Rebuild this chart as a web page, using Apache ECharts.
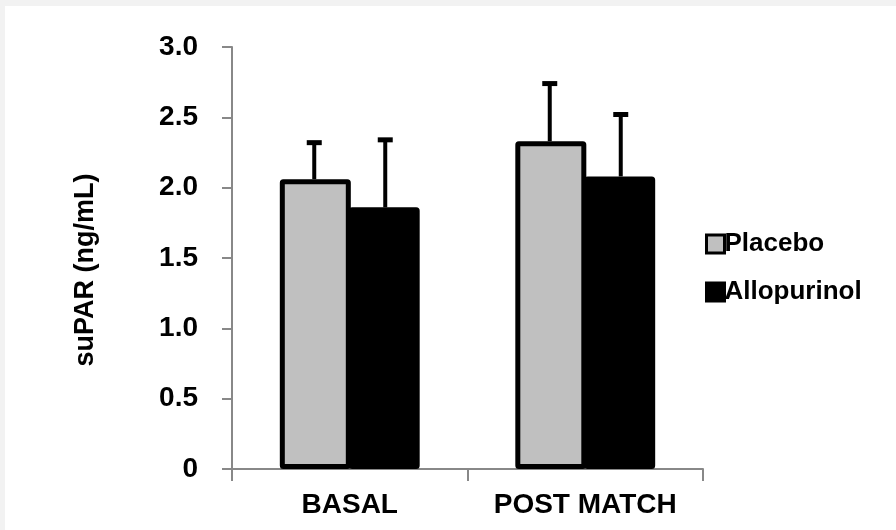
<!DOCTYPE html>
<html>
<head>
<meta charset="utf-8">
<script src="https://cdn.jsdelivr.net/npm/echarts@6/dist/echarts.min.js"></script>
<style>
  html, body { margin: 0; padding: 0; background: #f2f2f2; }
  #chart { width: 896px; height: 530px; }
</style>
</head>
<body>
<div id="chart"></div>
<script>
// Groups along the x axis
const categories = ['BASAL', 'POST MATCH'];
// Mean suPAR (ng/mL) per group
const placebo = [2.06, 2.33];
const allopurinol = [1.86, 2.08];
// Upper end of each error bar (mean + SD)
const placeboUpper = [2.32, 2.74];
const allopurinolUpper = [2.34, 2.52];
// Y axis ticks
const yTicks = [0, 0.5, 1.0, 1.5, 2.0, 2.5, 3.0];
const yTitle = 'suPAR (ng/mL)';

const BAR_W = 71;
const FONT = 'Liberation Sans, Arial, sans-serif';

const chart = echarts.init(document.getElementById('chart'), null, { renderer: 'canvas' });

function errorSeries(name, means, uppers, offset) {
  return {
    type: 'custom',
    name: name + ' SD',
    z: 1,
    silent: true,
    data: means.map((m, i) => [i, m, uppers[i]]),
    renderItem: function (params, api) {
      const base = api.coord([api.value(0), api.value(1)]);
      const top = api.coord([api.value(0), api.value(2)]);
      const x = base[0] + offset;
      const capHalf = 7.5;
      const style = { stroke: '#000', lineWidth: 4, fill: null };
      return {
        type: 'group',
        children: [
          { type: 'line', shape: { x1: x, y1: base[1], x2: x, y2: top[1] }, style: style },
          { type: 'line', shape: { x1: x - capHalf, y1: top[1], x2: x + capHalf, y2: top[1] }, style: Object.assign({}, style, { lineWidth: 5 }) }
        ]
      };
    }
  };
}

const option = {
  backgroundColor: '#f2f2f2',
  animation: false,
  graphic: [
    {
      type: 'rect', z: -10, silent: true,
      shape: { x: 5, y: 6, width: 891, height: 524 },
      style: { fill: '#ffffff' }
    },
    {
      type: 'text', silent: true,
      x: 86, y: 270, rotation: Math.PI / 2,
      style: {
        text: yTitle, fontFamily: FONT, fontWeight: 'bold', fontSize: 27, fill: '#000',
        align: 'center', verticalAlign: 'middle'
      }
    }
  ],
  grid: { left: 232, right: 193, top: 47, bottom: 61, containLabel: false },
  legend: {
    orient: 'vertical',
    left: 705,
    top: 231,
    padding: 0,
    itemGap: 22,
    itemWidth: 18,
    itemHeight: 18,
    icon: 'rect',
    textStyle: { fontFamily: FONT, fontWeight: 'bold', fontSize: 26, color: '#000', padding: [0, 0, 0, -5] },
    data: [
      { name: 'Placebo', itemStyle: { color: '#c0c0c0', borderColor: '#000', borderWidth: 3 } },
      { name: 'Allopurinol', itemStyle: { color: '#000', borderColor: '#000', borderWidth: 3 } }
    ]
  },
  xAxis: {
    type: 'category',
    data: categories,
    axisLine: { show: true, lineStyle: { color: '#888', width: 2 } },
    axisTick: { show: true, alignWithLabel: false, length: 12, lineStyle: { color: '#888', width: 2 } },
    axisLabel: {
      interval: 0, hideOverlap: false,
      fontFamily: FONT, fontWeight: 'bold', fontSize: 28, color: '#000', margin: 22
    },
    splitLine: { show: false }
  },
  yAxis: {
    type: 'value',
    min: 0,
    max: 3,
    interval: 0.5,
    axisLine: { show: true, lineStyle: { color: '#888', width: 2 } },
    axisTick: { show: true, length: 10, lineStyle: { color: '#888', width: 2 } },
    axisLabel: {
      fontFamily: FONT, fontWeight: 'bold', fontSize: 28, color: '#000', margin: 34,
      formatter: function (v) {
        const t = yTicks.find(x => Math.abs(x - v) < 1e-9);
        if (t === undefined) return '';
        return t === 0 ? '0' : t.toFixed(1);
      }
    },
    splitLine: { show: false }
  },
  series: [
    {
      name: 'Placebo', type: 'bar', data: placebo, barWidth: BAR_W, barGap: '-3%', z: 2,
      itemStyle: { color: '#c0c0c0', borderColor: '#000', borderWidth: 5, borderRadius: 1 }
    },
    {
      name: 'Allopurinol', type: 'bar', data: allopurinol, barWidth: BAR_W, barGap: '-3%', z: 2,
      itemStyle: { color: '#000', borderColor: '#000', borderWidth: 5, borderRadius: 1 }
    },
    errorSeries('Placebo', placebo, placeboUpper, -BAR_W / 2),
    errorSeries('Allopurinol', allopurinol, allopurinolUpper, BAR_W / 2)
  ]
};

chart.setOption(option);
</script>
</body>
</html>
